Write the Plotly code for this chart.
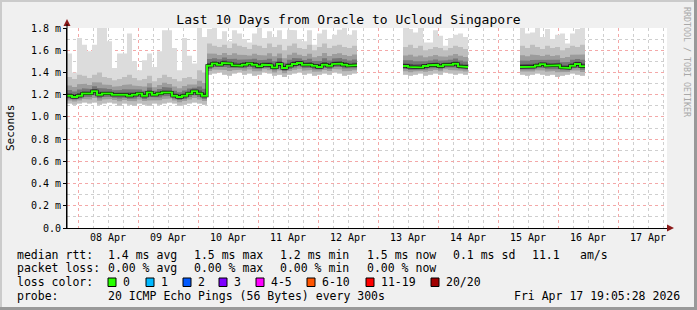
import plotly.graph_objects as go
import pandas as pd

FONT = "DejaVu Sans Mono"
W, H = 697, 310
L, R, T, B = 67, 667, 28, 228

# ---- data (seconds shown in ms units "m") ----
seg_starts = ["2026-04-07 19:36", "2026-04-13 10:00", "2026-04-15 08:48"]
step_hours = 2

median_a = [1.19, 1.18, 1.19, 1.21, 1.21, 1.23, 1.20, 1.21, 1.21, 1.20,
            1.20, 1.20, 1.19, 1.20, 1.21, 1.19, 1.22, 1.20, 1.21, 1.22,
            1.22, 1.19, 1.18, 1.19, 1.21, 1.23, 1.21, 1.19,
            1.46, 1.48, 1.47, 1.485, 1.48, 1.465, 1.46, 1.47, 1.48, 1.47,
            1.455, 1.47, 1.465, 1.445, 1.475, 1.44, 1.46, 1.475, 1.485, 1.47,
            1.47, 1.46, 1.45, 1.47, 1.46, 1.475, 1.48, 1.47, 1.46, 1.465]
max_a = [1.57, 1.40, 1.71, 1.65, 1.59, 1.65, 1.80, 1.80, 1.68, 1.44,
         1.57, 1.57, 1.75, 1.50, 1.42, 1.51, 1.57, 1.45, 1.59, 1.78,
         1.78, 1.62, 1.42, 1.71, 1.55, 1.48, 1.80, 1.72,
         1.79, 1.80, 1.70, 1.77, 1.68, 1.78, 1.75, 1.70, 1.67, 1.75,
         1.80, 1.71, 1.77, 1.72, 1.78, 1.70, 1.785, 1.78, 1.70, 1.68,
         1.78, 1.65, 1.75, 1.785, 1.70, 1.74, 1.785, 1.80, 1.74, 1.78]
hi_a = [1.36, 1.34, 1.38, 1.37, 1.35, 1.38, 1.40, 1.36, 1.35, 1.33,
        1.34, 1.36, 1.38, 1.35, 1.33, 1.34, 1.37, 1.32, 1.35, 1.38,
        1.36, 1.34, 1.32, 1.35, 1.36, 1.34, 1.42, 1.40,
        1.66, 1.64, 1.63, 1.65, 1.62, 1.66, 1.64, 1.63, 1.61, 1.65,
        1.64, 1.62, 1.66, 1.63, 1.65, 1.60, 1.64, 1.66, 1.62, 1.61,
        1.65, 1.60, 1.63, 1.66, 1.62, 1.64, 1.65, 1.63, 1.62, 1.64]
lo_a = [1.12, 1.11, 1.12, 1.13, 1.12, 1.13, 1.11, 1.12, 1.13, 1.12,
        1.10, 1.12, 1.11, 1.10, 1.12, 1.11, 1.10, 1.12, 1.11, 1.12,
        1.13, 1.12, 1.10, 1.11, 1.12, 1.13, 1.12, 1.11,
        1.38, 1.39, 1.40, 1.38, 1.37, 1.39, 1.40, 1.38, 1.39, 1.37,
        1.38, 1.40, 1.39, 1.37, 1.38, 1.36, 1.38, 1.39, 1.40, 1.38,
        1.39, 1.37, 1.38, 1.39, 1.38, 1.40, 1.39, 1.37, 1.38, 1.39]

median_b = [1.458, 1.45, 1.45, 1.445, 1.458, 1.465, 1.468, 1.455, 1.47, 1.47, 1.478, 1.455, 1.45]
max_b = [1.80, 1.79, 1.76, 1.80, 1.67, 1.67, 1.78, 1.73, 1.64, 1.71, 1.74, 1.75, 1.72]
hi_b = [1.63, 1.65, 1.62, 1.64, 1.60, 1.61, 1.63, 1.62, 1.60, 1.62, 1.64, 1.63, 1.61]
lo_b = [1.38, 1.37, 1.38, 1.39, 1.37, 1.38, 1.39, 1.38, 1.40, 1.39, 1.38, 1.39, 1.38]

median_c = [1.45, 1.455, 1.452, 1.462, 1.473, 1.461, 1.461, 1.465, 1.445, 1.44, 1.46, 1.475, 1.455]
max_c = [1.80, 1.75, 1.76, 1.80, 1.72, 1.79, 1.70, 1.74, 1.75, 1.66, 1.75, 1.79, 1.80]
hi_c = [1.64, 1.62, 1.65, 1.63, 1.61, 1.64, 1.62, 1.63, 1.60, 1.62, 1.64, 1.63, 1.65]
lo_c = [1.38, 1.37, 1.38, 1.39, 1.38, 1.37, 1.38, 1.36, 1.37, 1.38, 1.39, 1.38, 1.37]

segments = [
    (seg_starts[0], median_a, max_a, hi_a, lo_a),
    (seg_starts[1], median_b, max_b, hi_b, lo_b),
    (seg_starts[2], median_c, max_c, hi_c, lo_c),
]

y_ticks = [0.0, 0.2, 0.4, 0.6, 0.8, 1.0, 1.2, 1.4, 1.6, 1.8]
y_ticktext = ["0.0", "0.2 m", "0.4 m", "0.6 m", "0.8 m", "1.0 m", "1.2 m", "1.4 m", "1.6 m", "1.8 m"]
x_range = ["2026-04-07 19:36", "2026-04-17 19:36"]

title = "Last 10 Days from Oracle to Ucloud Singapore"
legend_rows = [
    ("median rtt:", [(107, "1.4 ms avg"), (193, "1.5 ms max"), (279, "1.2 ms min"),
                     (366, "1.5 ms now"), (452, "0.1 ms sd"), (531, "11.1"), (579, "am/s")]),
    ("packet loss:", [(107, "0.00 % avg"), (193, "0.00 % max"), (279, "0.00 % min"),
                      (366, "0.00 % now")]),
    ("loss color:", []),
    ("probe:", [(107, "20 ICMP Echo Pings (56 Bytes) every 300s"),
                (513, "Fri Apr 17 19:05:28 2026")]),
]
legend_row_y = [255, 268, 282, 296]
loss_colors = [("0", "#26ff00"), ("1", "#00b8ff"), ("2", "#0059ff"), ("3", "#7e00ff"),
               ("4-5", "#ff00ff"), ("6-10", "#ff5500"), ("11-19", "#ff0000"), ("20/20", "#a00000")]
loss_box_x = [108, 146, 183, 219, 256, 307, 366, 431]


def px(x):
    return (x - L) / (R - L)


def py(y):
    return (B - y) / (B - T)


def step_xy(times, vals):
    xs, ys = [], []
    for i, v in enumerate(vals):
        xs += [times[i], times[i + 1]]
        ys += [v, v]
    return xs, ys


fig = go.Figure()

band_colors = ["#dcdcdc", "#bebebe", "#9c9c9c", "#767676", "#505050"]
for start, med, mx, hi, lo in segments:
    times = list(pd.date_range(start, periods=len(med) + 1, freq=f"{step_hours}h"))
    bands = [
        (lo, mx),
        (lo, hi),
        ([m - 0.6 * (m - l) for m, l in zip(med, lo)], [m + 0.55 * (h - m) for m, h in zip(med, hi)]),
        ([m - 0.35 * (m - l) for m, l in zip(med, lo)], [m + 0.3 * (h - m) for m, h in zip(med, hi)]),
        ([m - 0.15 * (m - l) for m, l in zip(med, lo)], [m + 0.13 * (h - m) for m, h in zip(med, hi)]),
    ]
    for (bot, top), col in zip(bands, band_colors):
        tx, ty = step_xy(times, top)
        bx, by = step_xy(times, bot)
        fig.add_trace(go.Scatter(x=tx + bx[::-1], y=ty + by[::-1], fill="toself",
                                 fillcolor=col, line=dict(width=0), mode="lines",
                                 hoverinfo="skip", showlegend=False))
    mx_, my_ = step_xy(times, med)
    fig.add_trace(go.Scatter(x=mx_, y=my_, mode="lines", line=dict(color="black", width=3),
                             showlegend=False, hoverinfo="skip"))
    fig.add_trace(go.Scatter(x=mx_, y=my_, mode="lines", line=dict(color="#26ff00", width=2),
                             showlegend=False, hoverinfo="skip"))

fig.update_layout(
    width=W, height=H,
    margin=dict(l=L, r=W - R, t=T, b=H - B),
    paper_bgcolor="#f0f0f0", plot_bgcolor="white",
    font=dict(family=FONT, size=10, color="black"),
    showlegend=False,
    title=dict(text=title, x=0.5, xref="paper", xanchor="center",
               y=1 - 19 / H, yref="container", yanchor="middle",
               font=dict(family=FONT, size=13, color="black")),
)
fig.layout.title.x = (W / 2 - L) / (R - L)

fig.update_xaxes(
    type="date", range=x_range, tick0="2026-04-08", dtick=86400000,
    tickformat="%d %b", ticklabelmode="period", ticks="", ticklen=0,
    showgrid=True, gridcolor="#f4a8a8", griddash="dot", gridwidth=1,
    minor=dict(dtick=21600000, tick0="2026-04-08", showgrid=True, gridcolor="#cfcfcf",
               griddash="dot", gridwidth=1),
    showline=True, linecolor="black", linewidth=1, zeroline=False,
    tickfont=dict(family=FONT, size=10),
)
fig.update_yaxes(
    range=[0, 1.8], tickvals=y_ticks, ticktext=y_ticktext,
    ticks="outside", ticklen=3, tickcolor="black",
    showgrid=True, gridcolor="#f4a8a8", griddash="dot", gridwidth=1,
    minor=dict(dtick=0.1, tick0=0, showgrid=True, gridcolor="#cfcfcf", griddash="dot", gridwidth=1),
    showline=True, linecolor="black", linewidth=1, zeroline=False,
    tickfont=dict(family=FONT, size=10),
)

anns = []
shapes = []

# axis arrows
shapes.append(dict(type="path", xref="paper", yref="paper", layer="above",
                   path=f"M {px(63.5)} {py(26)} L {px(70.5)} {py(26)} L {px(67)} {py(19)} Z",
                   fillcolor="#8b1a1a", line=dict(width=0)))
shapes.append(dict(type="path", xref="paper", yref="paper", layer="above",
                   path=f"M {px(667)} {py(224.5)} L {px(667)} {py(231.5)} L {px(674)} {py(228)} Z",
                   fillcolor="#8b1a1a", line=dict(width=0)))
shapes.append(dict(type="line", xref="paper", yref="paper", layer="above",
                   x0=px(67), x1=px(67), y0=py(228), y1=py(24), line=dict(color="black", width=1)))

# y title
anns.append(dict(text="Seconds", xref="paper", yref="paper", x=px(10), y=py(128),
                 xanchor="center", yanchor="middle", textangle=-90, showarrow=False,
                 font=dict(family=FONT, size=11, color="black")))
# watermark
anns.append(dict(text="RRDTOOL / TOBI OETIKER", xref="paper", yref="paper", x=px(687), y=py(62),
                 xanchor="center", yanchor="middle", textangle=90, showarrow=False,
                 font=dict(family=FONT, size=8.3, color="#a8a8a8")))

LEG = 11.5
for (label, items), yy in zip(legend_rows, legend_row_y):
    anns.append(dict(text=label, xref="paper", yref="paper", x=px(15), y=py(yy),
                     xanchor="left", yanchor="middle", showarrow=False,
                     font=dict(family=FONT, size=LEG, color="black")))
    for xx, txt in items:
        anns.append(dict(text=txt, xref="paper", yref="paper", x=px(xx - 1), y=py(yy),
                         xanchor="left", yanchor="middle", showarrow=False,
                         font=dict(family=FONT, size=LEG, color="black")))

for (lab, col), bx in zip(loss_colors, loss_box_x):
    shapes.append(dict(type="rect", xref="paper", yref="paper",
                       x0=px(bx), x1=px(bx + 8), y0=py(286.5), y1=py(278),
                       fillcolor=col, line=dict(color="black", width=1)))
    anns.append(dict(text=lab, xref="paper", yref="paper", x=px(bx + 13), y=py(282),
                     xanchor="left", yanchor="middle", showarrow=False,
                     font=dict(family=FONT, size=LEG, color="black")))

# frame shading
shapes.append(dict(type="rect", xref="paper", yref="paper", x0=px(0), x1=px(W), y0=py(0), y1=py(2),
                   fillcolor="#cbcbcb", line=dict(width=0)))
shapes.append(dict(type="rect", xref="paper", yref="paper", x0=px(0), x1=px(2), y0=py(0), y1=py(H),
                   fillcolor="#cbcbcb", line=dict(width=0)))
shapes.append(dict(type="rect", xref="paper", yref="paper", x0=px(0), x1=px(W), y0=py(H - 3), y1=py(H),
                   fillcolor="#999999", line=dict(width=0)))
shapes.append(dict(type="rect", xref="paper", yref="paper", x0=px(W - 3), x1=px(W), y0=py(0), y1=py(H),
                   fillcolor="#999999", line=dict(width=0)))

fig.update_layout(annotations=anns, shapes=shapes)
fig.write_html("out.html")
